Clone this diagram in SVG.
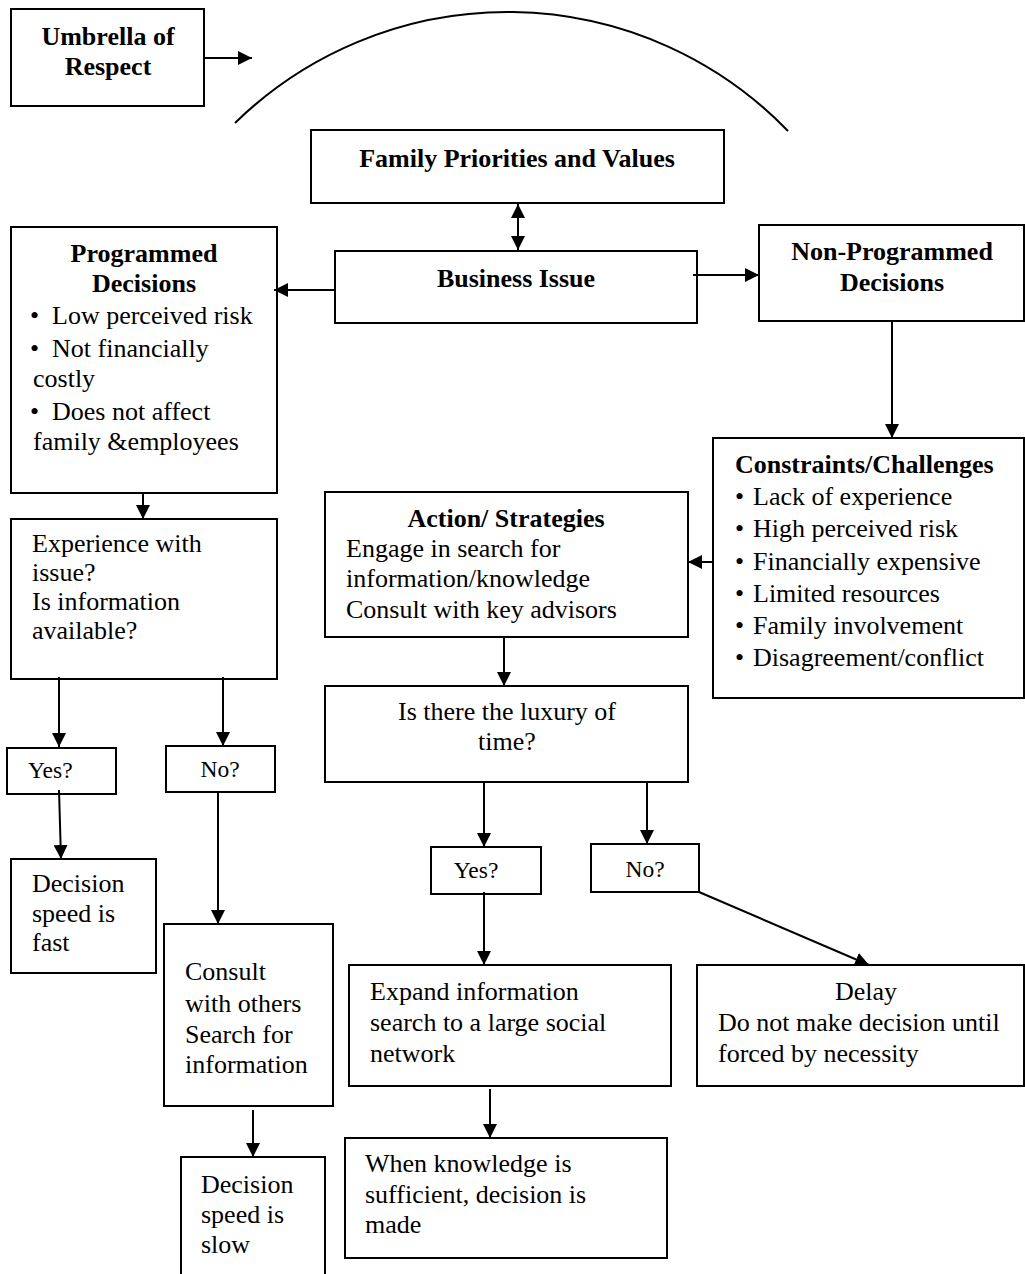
<svg xmlns="http://www.w3.org/2000/svg" width="1025" height="1274" viewBox="0 0 1025 1274">
  <style>
    .box { fill: #ffffff; stroke: #000000; stroke-width: 2; }
    .edge { fill: none; stroke: #000000; stroke-width: 2; }
    text { font-family: "Liberation Serif", "Times New Roman", serif; fill: #000000; font-size: 26px; }
    .b { font-weight: bold; }
    .c { text-anchor: middle; }
    .s { font-size: 23.5px; }
  </style>
  <defs>
    <marker id="head" viewBox="0 0 14 14" refX="14" refY="7" markerWidth="14" markerHeight="14" markerUnits="userSpaceOnUse" orient="auto-start-reverse">
      <path d="M0,0 L14,7 L0,14 z" fill="#000000"/>
    </marker>
  </defs>

  <!-- umbrella arc over the family values -->
  <path class="edge" d="M235,123 A390,390 0 0 1 788,131"/>

  <g id="umbrella">
    <rect class="box" x="11" y="9" width="193" height="97"/>
    <text class="b c" x="108" y="45">Umbrella of</text>
    <text class="b c" x="108" y="75">Respect</text>
  </g>

  <g id="family-values">
    <rect class="box" x="311" y="130" width="413" height="73"/>
    <text class="b c" x="517" y="167">Family Priorities and Values</text>
  </g>

  <g id="business-issue">
    <rect class="box" x="335" y="251" width="362" height="72"/>
    <text class="b c" x="516" y="287">Business Issue</text>
  </g>

  <g id="programmed">
    <rect class="box" x="11" y="227" width="266" height="266"/>
    <text class="b c" x="144" y="262">Programmed</text>
    <text class="b c" x="144" y="292">Decisions</text>
    <text x="30" y="324">•<tspan x="52">Low perceived risk</tspan></text>
    <text x="30" y="357">•<tspan x="52">Not financially</tspan></text>
    <text x="33" y="387">costly</text>
    <text x="30" y="420">•<tspan x="52">Does not affect</tspan></text>
    <text x="33" y="450">family &amp;employees</text>
  </g>

  <g id="non-programmed">
    <rect class="box" x="759" y="225" width="265" height="96"/>
    <text class="b c" x="892" y="260">Non-Programmed</text>
    <text class="b c" x="892" y="291">Decisions</text>
  </g>

  <g id="constraints">
    <rect class="box" x="713" y="438" width="311" height="260"/>
    <text class="b" x="735" y="473">Constraints/Challenges</text>
    <text x="735" y="505">•<tspan x="753">Lack of experience</tspan></text>
    <text x="735" y="537">•<tspan x="753">High perceived risk</tspan></text>
    <text x="735" y="570">•<tspan x="753">Financially expensive</tspan></text>
    <text x="735" y="602">•<tspan x="753">Limited resources</tspan></text>
    <text x="735" y="634">•<tspan x="753">Family involvement</tspan></text>
    <text x="735" y="666">•<tspan x="753">Disagreement/conflict</tspan></text>
  </g>

  <g id="action">
    <rect class="box" x="325" y="492" width="363" height="145"/>
    <text class="b c" x="506" y="527">Action/ Strategies</text>
    <text x="346" y="557">Engage in search for</text>
    <text x="346" y="587">information/knowledge</text>
    <text x="346" y="618">Consult with key advisors</text>
  </g>

  <g id="luxury">
    <rect class="box" x="325" y="686" width="363" height="96"/>
    <text class="c" x="507" y="720">Is there the luxury of</text>
    <text class="c" x="507" y="750">time?</text>
  </g>

  <g id="experience">
    <rect class="box" x="11" y="519" width="266" height="160"/>
    <text x="32" y="552">Experience with</text>
    <text x="32" y="581">issue?</text>
    <text x="32" y="610">Is information</text>
    <text x="32" y="639">available?</text>
  </g>

  <g id="yes-left">
    <rect class="box" x="7" y="748" width="109" height="46"/>
    <text class="s" x="28" y="778">Yes?</text>
  </g>

  <g id="no-left">
    <rect class="box" x="166" y="746" width="109" height="46"/>
    <text class="s c" x="220" y="777">No?</text>
  </g>

  <g id="decision-fast">
    <rect class="box" x="11" y="859" width="145" height="114"/>
    <text x="32" y="892">Decision</text>
    <text x="32" y="922">speed is</text>
    <text x="32" y="951">fast</text>
  </g>

  <g id="consult">
    <rect class="box" x="164" y="924" width="169" height="182"/>
    <text x="185" y="980">Consult</text>
    <text x="185" y="1012">with others</text>
    <text x="185" y="1043">Search for</text>
    <text x="185" y="1073">information</text>
  </g>

  <g id="decision-slow">
    <rect class="box" x="181" y="1157" width="144" height="130"/>
    <text x="201" y="1193">Decision</text>
    <text x="201" y="1223">speed is</text>
    <text x="201" y="1253">slow</text>
  </g>

  <g id="yes-right">
    <rect class="box" x="431" y="847" width="110" height="47"/>
    <text class="s c" x="476" y="878">Yes?</text>
  </g>

  <g id="no-right">
    <rect class="box" x="591" y="844" width="108" height="48"/>
    <text class="s c" x="645" y="877">No?</text>
  </g>

  <g id="expand">
    <rect class="box" x="349" y="965" width="322" height="121"/>
    <text x="370" y="1000">Expand information</text>
    <text x="370" y="1031">search to a large social</text>
    <text x="370" y="1062">network</text>
  </g>

  <g id="delay">
    <rect class="box" x="697" y="965" width="327" height="121"/>
    <text class="c" x="866" y="1000">Delay</text>
    <text x="718" y="1031">Do not make decision until</text>
    <text x="718" y="1062">forced by necessity</text>
  </g>

  <g id="decision-made">
    <rect class="box" x="345" y="1138" width="322" height="120"/>
    <text x="365" y="1172">When knowledge is</text>
    <text x="365" y="1203">sufficient, decision is</text>
    <text x="365" y="1233">made</text>
  </g>

  <g id="connectors">
    <line class="edge" x1="204" y1="58" x2="252" y2="58" marker-end="url(#head)"/>
    <line class="edge" x1="518" y1="204" x2="518" y2="250" marker-start="url(#head)" marker-end="url(#head)"/>
    <line class="edge" x1="335" y1="290" x2="274" y2="290" marker-end="url(#head)"/>
    <line class="edge" x1="693" y1="275" x2="759" y2="275" marker-end="url(#head)"/>
    <line class="edge" x1="892" y1="321" x2="892" y2="438" marker-end="url(#head)"/>
    <line class="edge" x1="713" y1="562" x2="688" y2="562" marker-end="url(#head)"/>
    <line class="edge" x1="504" y1="637" x2="504" y2="686" marker-end="url(#head)"/>
    <line class="edge" x1="143" y1="493" x2="143" y2="519" marker-end="url(#head)"/>
    <line class="edge" x1="59" y1="677" x2="59" y2="747" marker-end="url(#head)"/>
    <line class="edge" x1="223" y1="677" x2="223" y2="746" marker-end="url(#head)"/>
    <line class="edge" x1="59" y1="790" x2="61" y2="859" marker-end="url(#head)"/>
    <line class="edge" x1="218" y1="792" x2="218" y2="924" marker-end="url(#head)"/>
    <line class="edge" x1="253" y1="1110" x2="253" y2="1157" marker-end="url(#head)"/>
    <line class="edge" x1="484" y1="782" x2="484" y2="847" marker-end="url(#head)"/>
    <line class="edge" x1="647" y1="782" x2="647" y2="844" marker-end="url(#head)"/>
    <line class="edge" x1="484" y1="892" x2="484" y2="965" marker-end="url(#head)"/>
    <line class="edge" x1="699" y1="892" x2="869" y2="965" marker-end="url(#head)"/>
    <line class="edge" x1="490" y1="1089" x2="490" y2="1138" marker-end="url(#head)"/>
  </g>
</svg>
